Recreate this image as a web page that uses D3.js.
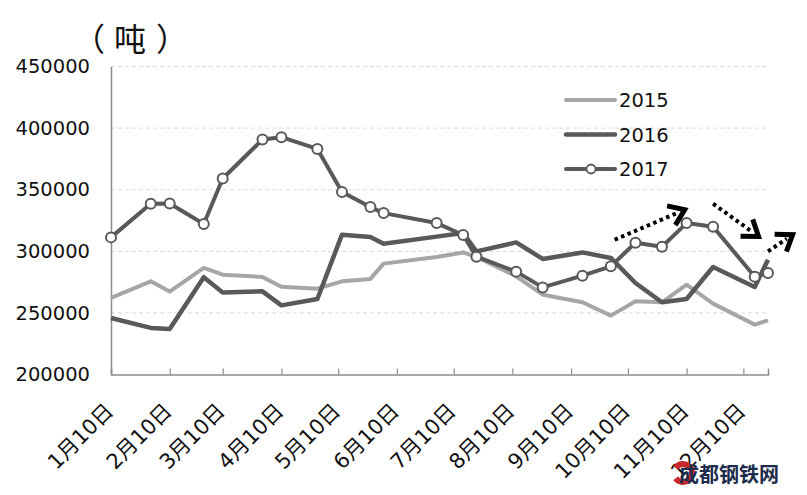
<!DOCTYPE html>
<html><head><meta charset="utf-8">
<script src="https://cdn.jsdelivr.net/npm/d3@7/dist/d3.min.js"></script>
<style>body{margin:0;background:#fff;} svg{display:block;}</style>
</head><body>
<svg id="c" width="807" height="495"></svg>
<script>
const dates = ["2017-01-10","2017-01-31","2017-02-10","2017-02-28","2017-03-10","2017-03-31","2017-04-10","2017-04-29","2017-05-12","2017-05-27","2017-06-03","2017-07-01","2017-07-15","2017-07-22","2017-08-12","2017-08-26","2017-09-16","2017-10-01","2017-10-14","2017-10-28","2017-11-10","2017-11-24","2017-12-16","2017-12-23"];
const v2015 = [262200,275600,267300,286500,281000,279200,271300,269700,275600,277600,290000,295400,299100,295400,279700,264800,258600,247800,259400,258600,272900,257500,240500,244000];
const v2016 = [245900,237800,236900,279000,266600,267500,256100,261300,313500,311600,306200,311900,314800,299900,307200,293800,299100,294600,274300,258600,261300,287300,271100,293200];
const v2017 = [311300,338600,338800,322100,359100,390700,392600,383100,348100,335900,331000,322900,313200,295600,283500,270700,280200,287800,307000,303700,322900,319900,279400,282400];
const seriesNames = ["2015","2016","2017"];
const yTicks = [200000,250000,300000,350000,400000,450000];
const xTickDates = ["2017-01-10","2017-02-10","2017-03-10","2017-04-10","2017-05-10","2017-06-10","2017-07-10","2017-08-10","2017-09-10","2017-10-10","2017-11-10","2017-12-10"];
const xTickLabels = ["1月10日","2月10日","3月10日","4月10日","5月10日","6月10日","7月10日","8月10日","9月10日","10月10日","11月10日","12月10日"];
const unitChars = ["（","吨","）"];
// annotation arrows: [startDate, startValue, endDate, endValue]
const arrows = [
  ["2017-10-03",309400,"2017-11-09",333700],
  ["2017-11-24",338600,"2017-12-18",312100],
  ["2017-12-23",299900,"2018-01-05",313500]
];
const watermark = "成都钢铁网";

const parse = d3.utcParse("%Y-%m-%d");
const svg = d3.select("#c");
const L = 111, R = 768, T = 66.5, B = 374.5;
const x = d3.scaleUtc().domain([parse("2017-01-10"), parse("2017-12-23")]).range([L, R]);
const y = d3.scaleLinear().domain([200000, 450000]).range([B, T]);

const numFont = "'DejaVu Sans', 'Noto Sans CJK SC', sans-serif";

// gridlines
svg.append("g").selectAll("line").data(yTicks.filter(t => t > 200000)).join("line")
  .attr("x1", L).attr("x2", R).attr("y1", d => y(d)).attr("y2", d => y(d))
  .attr("stroke", "#dadada").attr("stroke-width", 1).attr("stroke-dasharray", "4,3");

// y axis
const yAxis = d3.axisLeft(y).tickValues(yTicks).tickSize(0).tickPadding(21).tickFormat(d3.format("d"));
const gy = svg.append("g").attr("transform", `translate(${L},0)`).call(yAxis);
gy.select(".domain").attr("stroke", "#8c8c8c").attr("stroke-width", 1.5);
gy.selectAll("text").attr("font-family", numFont).attr("font-size", "19.5px").attr("fill", "#111");

// x axis
const xAxis = d3.axisBottom(x).tickValues(xTickDates.map(parse)).tickSize(-6).tickFormat((d, i) => xTickLabels[i]);
const gx = svg.append("g").attr("transform", `translate(0,${B})`).call(xAxis);
gx.select(".domain").attr("stroke", "#8c8c8c").attr("stroke-width", 1.5);
gx.selectAll(".tick line").attr("stroke", "#8c8c8c").attr("stroke-width", 1.2);
gx.selectAll("text").attr("font-family", numFont).attr("font-size", "21px").attr("fill", "#111")
  .attr("text-anchor", "end").attr("dy", 0).attr("y", 0)
  .attr("transform", "translate(3,38) rotate(-45)");

// unit label
const ut = svg.append("text").attr("y", 50.5).attr("text-anchor", "middle")
  .attr("font-family", "'Noto Sans CJK SC', sans-serif").attr("font-size", "32px").attr("fill", "#111");
const ux = [89, 130, 172];
unitChars.forEach((c, i) => ut.append("tspan").attr("x", ux[i]).text(c));

const line = d3.line().x(d => x(d[0])).y(d => y(d[1])).curve(d3.curveLinear);
const pd = dates.map(parse);
const s15 = pd.map((d, i) => [d, v2015[i]]);
const s16 = pd.map((d, i) => [d, v2016[i]]);
const s17 = pd.map((d, i) => [d, v2017[i]]);

svg.append("path").attr("d", line(s15)).attr("fill", "none").attr("stroke", "#a6a6a6").attr("stroke-width", 4).attr("stroke-linejoin", "round");
svg.append("path").attr("d", line(s16)).attr("fill", "none").attr("stroke", "#595959").attr("stroke-width", 4.5).attr("stroke-linejoin", "round");
svg.append("path").attr("d", line(s17)).attr("fill", "none").attr("stroke", "#595959").attr("stroke-width", 4).attr("stroke-linejoin", "round");
svg.append("g").selectAll("circle").data(s17).join("circle")
  .attr("cx", d => x(d[0])).attr("cy", d => y(d[1])).attr("r", 5)
  .attr("fill", "#fff").attr("stroke", "#595959").attr("stroke-width", 2);

// legend
const legY = [100, 134.5, 169];
const legColors = ["#a6a6a6", "#595959", "#595959"];
const lg = svg.append("g");
seriesNames.forEach((n, i) => {
  lg.append("line").attr("x1", 566).attr("x2", 615).attr("y1", legY[i]).attr("y2", legY[i])
    .attr("stroke", legColors[i]).attr("stroke-width", i === 1 ? 4.5 : 4).attr("stroke-linecap", "round");
  if (i === 2) lg.append("circle").attr("cx", 591).attr("cy", legY[i]).attr("r", 4.5)
    .attr("fill", "#fff").attr("stroke", "#595959").attr("stroke-width", 1.8);
  lg.append("text").attr("x", 619).attr("y", legY[i] + 7).attr("font-family", numFont)
    .attr("font-size", "19.5px").attr("fill", "#111").text(n);
});

// arrows
const ag = svg.append("g");
arrows.forEach(a => {
  const x1 = x(parse(a[0])), y1 = y(a[1]), x2 = x(parse(a[2])), y2 = y(a[3]);
  const ang = Math.atan2(y2 - y1, x2 - x1);
  const back = 7;
  ag.append("line").attr("x1", x1).attr("y1", y1)
    .attr("x2", x2 - back * Math.cos(ang)).attr("y2", y2 - back * Math.sin(ang))
    .attr("stroke", "#000").attr("stroke-width", 4).attr("stroke-dasharray", "3.5,3.5");
  const hl = 18, ha = 0.62;
  const p1 = [x2 - hl * Math.cos(ang - ha), y2 - hl * Math.sin(ang - ha)];
  const p2 = [x2 - hl * Math.cos(ang + ha), y2 - hl * Math.sin(ang + ha)];
  ag.append("path").attr("d", `M${p1}L${x2},${y2}L${p2}`).attr("fill", "none")
    .attr("stroke", "#000").attr("stroke-width", 5).attr("stroke-linejoin", "miter");
});

// watermark
const wm = svg.append("g");
wm.append("path").attr("d", d3.arc()({innerRadius: 6, outerRadius: 12, startAngle: Math.PI * 0.2, endAngle: Math.PI * 1.8}))
  .attr("transform", "translate(683,473) rotate(-90)").attr("fill", "#c8282e");
wm.append("text").attr("x", 679).attr("y", 481.5).attr("font-family", "'Noto Sans CJK SC', sans-serif")
  .attr("font-weight", "bold").attr("font-size", "20px").attr("fill", "#1e2c4c").text(watermark);
</script>
</body></html>
